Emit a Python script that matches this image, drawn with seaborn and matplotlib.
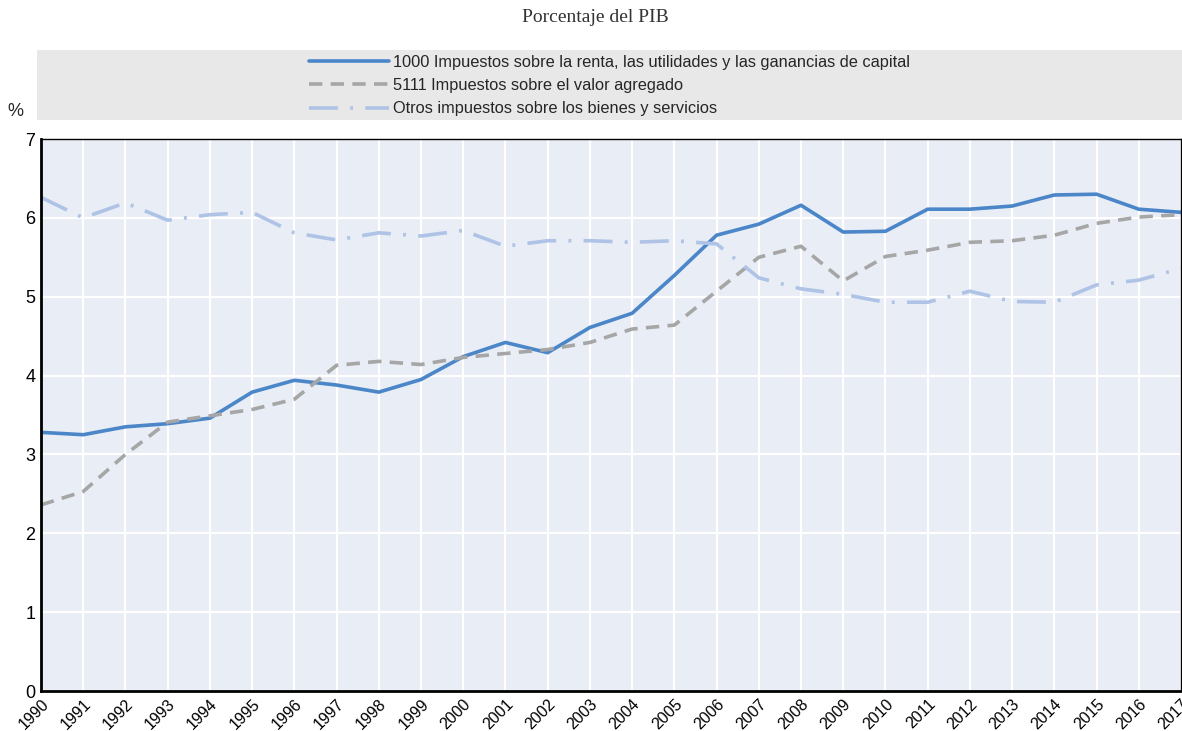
import matplotlib
matplotlib.use("Agg")
import matplotlib.pyplot as plt
import matplotlib.patches as mpatches
import seaborn as sns
import pandas as pd

years = list(range(1990, 2018))
renta = [3.28, 3.25, 3.35, 3.39, 3.46, 3.79, 3.94, 3.88, 3.79, 3.95, 4.24, 4.42, 4.29, 4.61,
         4.79, 5.27, 5.78, 5.92, 6.16, 5.82, 5.83, 6.11, 6.11, 6.15, 6.29, 6.30, 6.11, 6.07]
iva = [2.36, 2.53, 3.00, 3.41, 3.49, 3.57, 3.70, 4.13, 4.18, 4.14, 4.23, 4.28, 4.33, 4.42,
       4.59, 4.64, 5.07, 5.50, 5.64, 5.20, 5.51, 5.59, 5.69, 5.71, 5.78, 5.93, 6.01, 6.04]
otros = [6.26, 6.00, 6.19, 5.97, 6.04, 6.07, 5.81, 5.72, 5.81, 5.77, 5.84, 5.64, 5.71, 5.71,
         5.69, 5.71, 5.67, 5.24, 5.10, 5.03, 4.93, 4.93, 5.07, 4.94, 4.93, 5.15, 5.21, 5.36]
series_names = ["1000 Impuestos sobre la renta, las utilidades y las ganancias de capital",
                "5111 Impuestos sobre el valor agregado",
                "Otros impuestos sobre los bienes y servicios"]
subtitle = "Porcentaje del PIB"
y_unit = "%"

df = pd.concat([
    pd.DataFrame({"year": years, "value": vals, "serie": name})
    for name, vals in zip(series_names, [renta, iva, otros])
])

sns.set_theme(style="white")
plt.rcParams["font.family"] = ["Liberation Sans", "DejaVu Sans"]

fig = plt.figure(figsize=(11.82, 7.31), dpi=100)
ax = fig.add_axes([41/1182, 1-691/731, 1140/1182, 552/731])
ax.set_facecolor("#e9edf6")

palette = {series_names[0]: "#4a86c8", series_names[1]: "#a6a6a6", series_names[2]: "#aec3e5"}
dashes = {series_names[0]: "", series_names[1]: (3.7, 2.3), series_names[2]: (8, 3.4, 0.8, 3.4)}
sns.lineplot(data=df, x="year", y="value", hue="serie", style="serie", palette=palette,
             dashes=dashes, linewidth=2.6, ax=ax, legend=True)

ax.set_xlim(1990, 2017)
ax.set_ylim(0, 7)
ax.set_xticks(years)
ax.set_xticklabels([str(y) for y in years], rotation=45, ha="right", rotation_mode="anchor",
                   fontsize=11.5)
ax.set_yticks(range(0, 8))
ax.set_yticklabels([str(v) for v in range(0, 8)], fontsize=13)
ax.tick_params(axis="both", direction="in", length=5, width=1.5, colors="black", pad=4)
ax.tick_params(axis="x", pad=4)
ax.grid(True, color="white", linewidth=1.6)
ax.set_axisbelow(True)
ax.set_xlabel("")
ax.set_ylabel("")
for s in ["left", "bottom"]:
    ax.spines[s].set_color("black")
    ax.spines[s].set_linewidth(2)
for s in ["top", "right"]:
    ax.spines[s].set_color("black")
    ax.spines[s].set_linewidth(1)

handles, labels = ax.get_legend_handles_labels()
ax.get_legend().remove()

fig.patches.append(mpatches.Rectangle((37/1182, 1-120/731), 1145/1182, 70/731,
                                      transform=fig.transFigure, facecolor="#e8e8e8",
                                      edgecolor="none", zorder=0))
leg = fig.legend(handles, labels, loc="upper left", bbox_to_anchor=(309/1182, 1-55/731),
                 frameon=False, fontsize=11.8, handlelength=4.9, handletextpad=0.25,
                 labelspacing=0.5, borderaxespad=0, borderpad=0)
for line in leg.get_lines():
    line.set_linewidth(2.6)

fig.text(15/1182, 1-112/731, y_unit, fontsize=13, ha="center", va="center")
fig.text(595/1182, 1-18/731, subtitle, fontsize=14, ha="center", va="center",
         family=["Liberation Serif", "DejaVu Serif"], color="#333333")

fig.savefig("out.png", dpi=100)
